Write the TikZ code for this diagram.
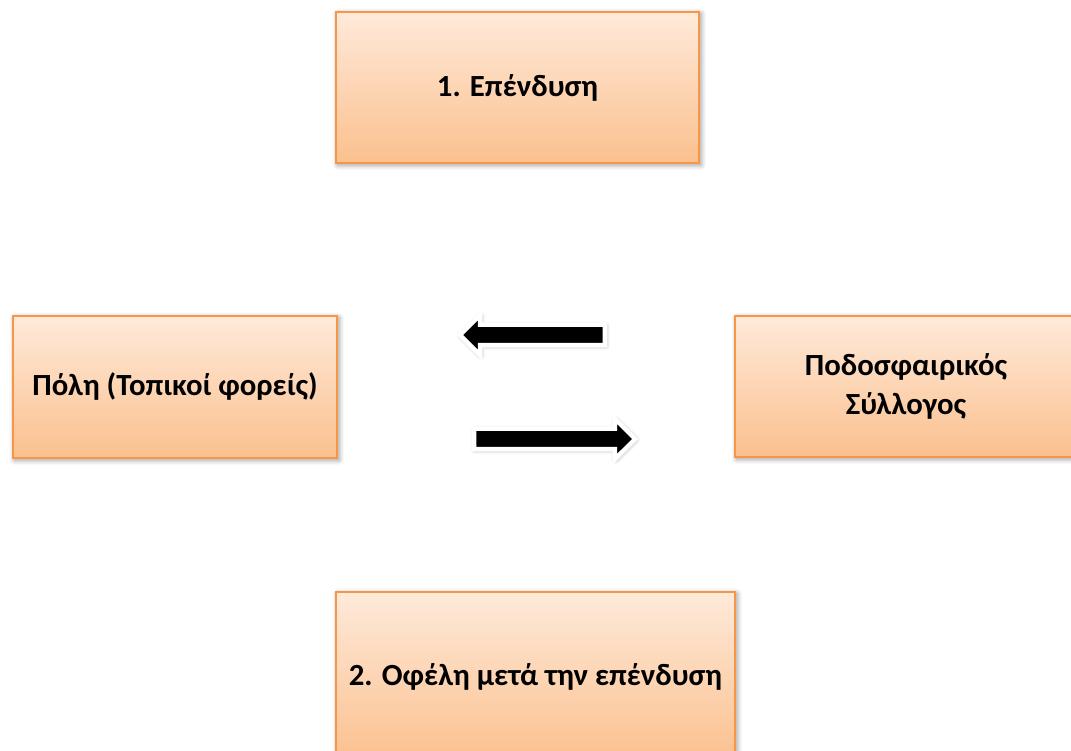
\documentclass[tikz,border=0pt]{standalone}
\usepackage{fontspec}
\setmainfont{Carlito}
\usepackage{xcolor}
\usepackage{tikz}
\usetikzlibrary{shapes.arrows, shadows, shadows.blur, positioning}
\definecolor{boxtop}{RGB}{254,234,218}
\definecolor{boxbottom}{RGB}{251,192,142}
\definecolor{boxline}{RGB}{247,150,70}

\tikzset{
    actorbox/.style={rectangle, draw=boxline, line width=1.2pt,
        top color=boxtop, bottom color=boxbottom,
        blur shadow={shadow xshift=1pt, shadow yshift=-1pt, shadow blur radius=3pt, shadow opacity=45},
        align=center, font=\fontsize{17.5}{22.5}\selectfont\bfseries},
    flowarrow/.style={single arrow, fill=black, draw=white, line width=2.5pt,
        inner xsep=0pt, inner ysep=0.16cm, single arrow head extend=0.2cm,
        single arrow tip angle=90,
        blur shadow={shadow xshift=0.5pt, shadow yshift=-0.5pt, shadow blur radius=2.5pt, shadow opacity=40}}
}

\begin{document}
\begin{tikzpicture}

    \clip (0,0) rectangle (21.42,-15.02);

    % Top box
    \node[actorbox, minimum width=7.26cm, minimum height=3.02cm] (invest) at (10.35,-1.75) {1. Επένδυση};

    % Left and right boxes
    \node[actorbox, minimum width=6.48cm, minimum height=2.84cm] (city) at (3.50,-7.74) {Πόλη (Τοπικοί φορείς)};
    \node[actorbox, minimum width=6.84cm, minimum height=2.82cm] (club) at (18.12,-7.73) {Ποδοσφαιρικός\\Σύλλογος};

    % Bottom box
    \node[actorbox, minimum width=7.98cm, minimum height=3.40cm] (benefit) at (10.71,-13.54) {2. Οφέλη μετά την επένδυση};

    % Arrow pointing left
    \node[flowarrow, minimum height=2.90cm, shape border rotate=180] (toleft) at (10.75,-6.70) {};
    % Arrow pointing right
    \node[flowarrow, minimum height=3.22cm] (toright) at (10.99,-8.78) {};

\end{tikzpicture}
\end{document}
